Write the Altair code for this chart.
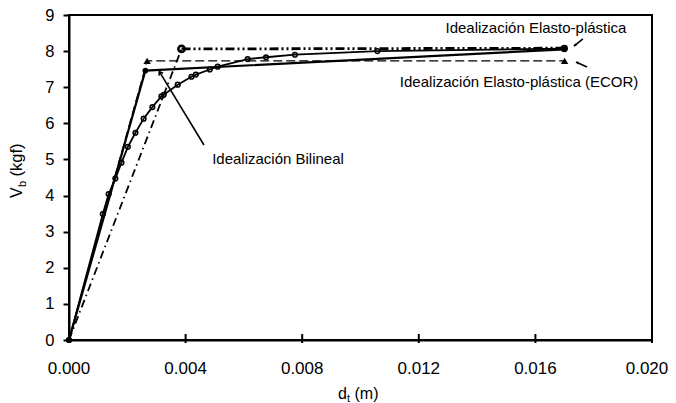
import math
import altair as alt
import pandas as pd

# ---------------- data ----------------
push_d = [0.0, 0.00116, 0.00136, 0.00159, 0.00180, 0.00202, 0.00228, 0.00256, 0.00286,
          0.00317, 0.00325, 0.00373, 0.00420, 0.00435, 0.00483, 0.00510, 0.00613,
          0.00676, 0.00775, 0.01058, 0.01696]
push_v = [0.0, 3.49, 4.04, 4.47, 4.91, 5.35, 5.74, 6.13, 6.45,
          6.75, 6.79, 7.07, 7.29, 7.35, 7.49, 7.57, 7.78,
          7.83, 7.90, 8.00, 8.07]

bil_d = [0.0, 0.00262, 0.01700]
bil_v = [0.0, 7.46, 8.05]

ep_d = [0.0, 0.00386, 0.01700]
ep_v = [0.0, 8.06, 8.08]

ecor_d = [0.0, 0.00268, 0.01700]
ecor_v = [0.0, 7.73, 7.73]

x_ticks = [0.0, 0.004, 0.008, 0.012, 0.016, 0.020]
x_tick_labels = ["0.000", "0.004", "0.008", "0.012", "0.016", "0.020"]
y_ticks = [0, 1, 2, 3, 4, 5, 6, 7, 8, 9]

label_text = ["Idealización Elasto-plástica",
              "Idealización Elasto-plástica (ECOR)",
              "Idealización Bilineal"]
label_d = [0.01602, 0.01544, 0.00717]
label_v = [8.64, 7.14, 5.01]

arrow_d0 = [0.00463, 0.01763, 0.01777]
arrow_v0 = [5.40, 8.34, 7.56]
arrow_d1 = [0.00310, 0.01732, 0.01739]
arrow_v1 = [7.43, 8.14, 7.70]
arrow_kind = ["open", "filled", "filled"]

# ---------------- layout ----------------
W, H = 583, 325
XMAX, YMAX = 0.02, 9
FONT = "Liberation Sans"

xs = alt.Scale(domain=[0, XMAX], nice=False, zero=True)
ys = alt.Scale(domain=[0, YMAX], nice=False, zero=True)

x_axis = alt.Axis(values=x_ticks, ticks=False, labels=False,
                  domainColor="black", domainWidth=2, grid=False, title=None)
y_axis = alt.Axis(values=y_ticks, tickSize=6, tickWidth=2, tickColor="black",
                  labelPadding=9, labelFontSize=16.5, labelColor="black",
                  domainColor="black", domainWidth=2, grid=False, title=None)

X = alt.X("d:Q", scale=xs, axis=x_axis)
Y = alt.Y("v:Q", scale=ys, axis=y_axis)

push_df = pd.DataFrame({"d": push_d, "v": push_v})
bil_df = pd.DataFrame({"d": bil_d, "v": bil_v})
ep_df = pd.DataFrame({"d": ep_d, "v": ep_v})
ecor_df = pd.DataFrame({"d": ecor_d, "v": ecor_v})

push_line = alt.Chart(push_df).mark_line(color="black", strokeWidth=1.8).encode(x=X, y=Y)
push_pts = alt.Chart(push_df).mark_point(shape="circle", filled=False, size=22,
                                         strokeWidth=1.5, color="black",
                                         opacity=1).encode(x=X, y=Y)

bil_line = alt.Chart(bil_df).mark_line(color="black", strokeWidth=2.2).encode(x=X, y=Y)
bil_pts = alt.Chart(bil_df).mark_point(shape="circle", filled=True, size=34,
                                       color="black", opacity=1).encode(x=X, y=Y)

# elasto-plastic: rising part thinner, plateau heavy dash-dot-dot
ep_rise = alt.Chart(ep_df.iloc[[0, 1]]).mark_line(color="black", strokeWidth=1.8,
                                                  strokeDash=[8, 4, 1.5, 4]).encode(x=X, y=Y)
ep_flat = alt.Chart(ep_df.iloc[[1, 2]]).mark_line(color="black", strokeWidth=2.8,
                                                  strokeDash=[9, 3, 2, 3, 2, 3]).encode(x=X, y=Y)
ep_knee = alt.Chart(ep_df.iloc[[1]]).mark_point(shape="circle", filled=False, size=40,
                                                strokeWidth=2.5, color="black",
                                                opacity=1).encode(x=X, y=Y)
ep_end = alt.Chart(ep_df.iloc[[2]]).mark_point(shape="circle", filled=True, size=45,
                                               color="black", opacity=1).encode(x=X, y=Y)

ecor_line = alt.Chart(ecor_df).mark_line(color="black", strokeWidth=1.1,
                                         strokeDash=[9, 4]).encode(x=X, y=Y)
ecor_pts = alt.Chart(ecor_df.iloc[[1, 2]]).mark_point(shape="triangle-up", filled=True,
                                                      size=55, color="black",
                                                      opacity=1).encode(x=X, y=Y)

# arrows
px_per_x = W / XMAX
px_per_y = H / YMAX
angles = []
for d0, v0, d1, v1 in zip(arrow_d0, arrow_v0, arrow_d1, arrow_v1):
    dx = (d1 - d0) * px_per_x
    dy = -(v1 - v0) * px_per_y
    angles.append(math.degrees(math.atan2(dx, -dy)) % 360)

arrow_df = pd.DataFrame({"d": arrow_d0, "v": arrow_v0, "d2": arrow_d1, "v2": arrow_v1,
                         "kind": arrow_kind, "ang": angles})
arrow_shaft = alt.Chart(arrow_df).mark_rule(color="black", strokeWidth=1.6).encode(
    x=X, y=Y, x2="d2:Q", y2="v2:Q")
head_open = alt.Chart(arrow_df[arrow_df.kind == "open"]).mark_point(
    shape="M-0.45,0.6L0,0L0.45,0.6", filled=False, size=110, strokeWidth=1.6,
    color="black", opacity=1).encode(
    x=alt.X("d2:Q", scale=xs, axis=x_axis), y=alt.Y("v2:Q", scale=ys, axis=y_axis),
    angle=alt.Angle("ang:Q", scale=None))
head_fill = alt.Chart(arrow_df[arrow_df.kind == "filled"]).mark_point(
    shape="M0,0L-0.45,0.9L0.45,0.9Z", filled=True, size=40,
    color="black", opacity=1).encode(
    x=alt.X("d2:Q", scale=xs, axis=x_axis), y=alt.Y("v2:Q", scale=ys, axis=y_axis),
    angle=alt.Angle("ang:Q", scale=None))

label_df = pd.DataFrame({"d": label_d, "v": label_v, "t": label_text})
labels = alt.Chart(label_df).mark_text(fontSize=15, color="black", align="center",
                                       baseline="middle").encode(x=X, y=Y, text="t:N")

# inner tick marks and tick labels on the x axis
xt_df = pd.DataFrame({"d": x_ticks, "lab": x_tick_labels})
x_tick_marks = alt.Chart(xt_df).mark_rule(color="black", strokeWidth=2).encode(
    x=X, y=alt.value(H - 6), y2=alt.value(H + 3))
x_labels_mid = alt.Chart(xt_df.iloc[:-1]).mark_text(
    fontSize=17, color="black", align="center", baseline="alphabetic").encode(
    x=X, y=alt.value(H + 34), text="lab:N")
x_label_last = alt.Chart(xt_df.iloc[[-1]]).mark_text(
    fontSize=17, color="black", align="center", baseline="alphabetic", dx=-5).encode(
    x=X, y=alt.value(H + 34), text="lab:N")

# axis titles built from pieces (for subscripts)
one = pd.DataFrame({"a": [0]})


def piece(txt, x, y, size, angle=0):
    kw = dict(text=txt, fontSize=size, color="black", align="left", baseline="alphabetic")
    if angle:
        kw["angle"] = angle
    return alt.Chart(one).mark_text(**kw).encode(x=alt.value(x), y=alt.value(y))


xt0 = 269
titles = [
    piece("d", xt0, 384, 16),
    piece("t", xt0 + 9, 387, 11),
    piece("(m)", xt0 + 16.5, 384, 16),
    piece("V", -47, 183, 16, 270),
    piece("b", -43, 172, 11, 270),
    piece("(kgf)", -47, 161.5, 16.5, 270),
]

chart = alt.layer(
    ecor_line, ep_rise, ep_flat, push_line, bil_line,
    push_pts, bil_pts, ep_knee, ep_end, ecor_pts,
    arrow_shaft, head_open, head_fill, labels, x_tick_marks,
    x_labels_mid, x_label_last, *titles
).properties(
    width=W, height=H,
    autosize=alt.AutoSizeParams(type="none"),
    padding={"left": 61, "top": 7, "right": 16, "bottom": 63},
).configure(
    font=FONT,
).configure_view(
    stroke="black", strokeWidth=2,
).configure_axis(
    labelFont=FONT,
)

chart.save("out.html", embed_options={"renderer": "svg", "actions": False})
